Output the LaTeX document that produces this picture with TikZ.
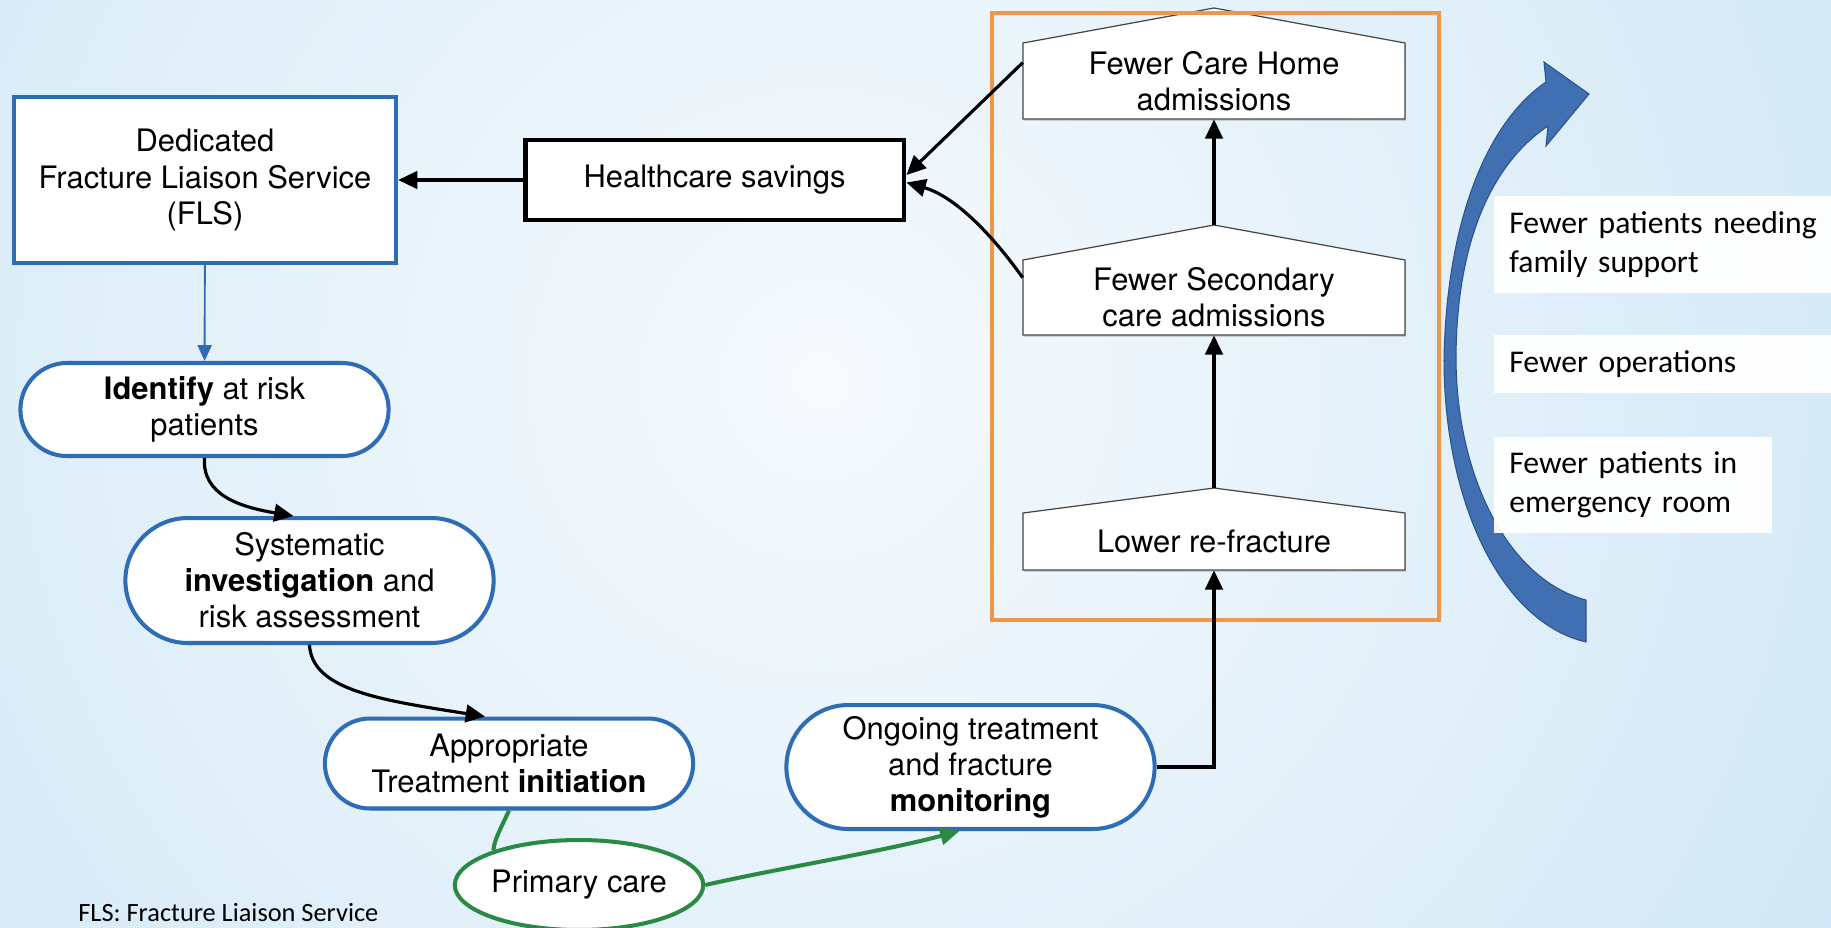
\documentclass[tikz,border=0pt]{standalone}
\usepackage{fontspec}
\setmainfont{TeX Gyre Heros}
\newfontfamily\calibri{Carlito}
\usetikzlibrary{arrows.meta,shapes.misc,shapes.geometric,shadows}

\definecolor{flsblue}{RGB}{46,108,182}
\definecolor{pcgreen}{RGB}{42,138,68}
\definecolor{boxorange}{RGB}{240,150,72}
\definecolor{bigarrow}{RGB}{64,112,178}
\definecolor{bigarrowedge}{RGB}{44,84,140}
\definecolor{skyin}{RGB}{246,250,253}
\definecolor{skyout}{RGB}{184,219,241}
\definecolor{houseline}{RGB}{70,70,70}

\newcommand{\flowfont}{\fontsize{17.6}{20.5}\selectfont}
\newcommand{\notefont}{\calibri\fontsize{18}{22.5}\selectfont}

\tikzset{
  softshadow/.style={drop shadow={shadow xshift=0.6pt,shadow yshift=-1pt,opacity=0.3}},
  pill/.style={rounded rectangle, draw=flsblue, line width=2.3pt, fill=white,
    minimum width=7.6cm, align=center, font=\flowfont, softshadow},
  flsbox/.style={rectangle, draw=flsblue, line width=2.5pt, fill=white,
    minimum width=7.64cm, minimum height=3.32cm, align=center, font=\flowfont, softshadow},
  savebox/.style={rectangle, draw=black, line width=2.8pt, fill=white,
    minimum width=7.58cm, minimum height=1.6cm, font=\flowfont, softshadow},
  carebox/.style={ellipse, draw=pcgreen, line width=2.3pt, fill=white,
    minimum width=4.96cm, minimum height=1.8cm, inner sep=0pt, font=\flowfont},
  housebox/.style={draw=houseline, line width=0.7pt, fill=white, softshadow},
  housetext/.style={minimum width=7.64cm, inner sep=0pt, align=center, font=\flowfont},
  notebox/.style={fill=white, fill opacity=0.95, text opacity=1, anchor=west,
    inner xsep=0.3cm, align=left, font=\notefont},
  arr/.style={line width=1.8pt, -{Triangle[length=11pt,width=10pt]}},
  bluearr/.style={flsblue, line width=1.1pt, -{Triangle[length=9pt,width=8pt]}},
  greenline/.style={pcgreen, line width=2.3pt},
  greenarr/.style={greenline, -{Triangle[length=11pt,width=10pt]}},
}

\begin{document}
\begin{tikzpicture}[x=0.02cm, y=-0.02cm]

  \useasboundingbox (0,0) rectangle (1831,927);
  \clip (0,0) rectangle (1831,927);

  % sky background
  \fill[skyout] (0,0) rectangle (1831,927);
  \shade[inner color=skyin, outer color=skyout] (820,380) circle (2000);

  % left hand pathway
  \node[flsbox] (fls) at (205,180) {Dedicated\\Fracture Liaison Service\\(FLS)};
  \node[savebox] (hs) at (714.5,180) {Healthcare savings};
  \node[pill, minimum height=1.86cm] (identify) at (204.5,409.5)
    {\textbf{Identify} at risk\\patients};
  \node[pill, minimum height=2.5cm] (systematic) at (309.5,580.5)
    {Systematic\\\textbf{investigation} and\\risk assessment};
  \node[pill, minimum height=1.8cm] (appropriate) at (509,763.5)
    {Appropriate\\Treatment \textbf{initiation}};
  \node[pill, minimum height=2.48cm] (ongoing) at (970.5,767)
    {Ongoing treatment\\and fracture\\\textbf{monitoring}};
  \node[carebox] (primary) at (579,885) {Primary care};

  % outcome houses
  \foreach \n/\cy/\h/\r in {1/81/76/35, 2/297.5/75/35, 3/541.5/57/25}
  {
    \draw[housebox] (1023,\cy+\h/2) -- (1023,\cy-\h/2) --
      (1214,\cy-\h/2-\r) coordinate (roof\n) --
      (1405,\cy-\h/2) -- (1405,\cy+\h/2) -- cycle;
  }
  \node[housetext, minimum height=1.52cm] (house1) at (1214,81) {Fewer Care Home\\admissions};
  \node[housetext, minimum height=1.5cm] (house2) at (1214,297.5) {Fewer Secondary\\care admissions};
  \node[housetext, minimum height=1.14cm] (house3) at (1214,541.5) {Lower re-fracture};

  \draw[boxorange, line width=2.3pt] (992,13) rectangle (1439,620);

  % connectors
  \draw[arr] (hs) -- (fls);
  \draw[bluearr] (fls) -- (identify);
  \draw[arr] (identify.south) .. controls (202,495) and (240,507) .. ([xshift=-0.32cm]systematic.north);
  \draw[arr] (systematic.south) .. controls (312,690) and (380,700) .. ([xshift=-0.48cm]appropriate.north);
  \draw[greenline] (appropriate.south) .. controls (501,828) and (494,840) .. (primary.158);
  \draw[greenarr] (primary.east) .. controls (780,868) and (880,852) .. ([xshift=-0.22cm]ongoing.south);
  \draw[arr] (ongoing.east) -| (house3);
  \draw[arr] (roof3) -- (house2);
  \draw[arr] (roof2) -- (house1);
  \draw[arr] ([yshift=-0.4cm]house1.north west) -- ([yshift=0.1cm]hs.east);
  \draw[arr] ([yshift=-0.36cm]house2.north west) .. controls (985,225) and (950,195) .. ([yshift=-0.05cm]hs.east);

  % wider benefits
  \filldraw[fill=bigarrow, draw=bigarrowedge, line width=0.6pt]
    (1546,82) .. controls (1483,125) and (1446,230) .. (1444,360)
    .. controls (1444,500) and (1500,622) .. (1586,642)
    -- (1586,600)
    .. controls (1510,580) and (1457,480) .. (1456,360)
    .. controls (1456,245) and (1490,165) .. (1548,126)
    -- (1546,146) -- (1589,94) -- (1544,62) -- cycle;

  \node[notebox, minimum height=1.94cm, text width=7cm] (family) at (1494,244.5)
    {Fewer patients needing\\family support};
  \node[notebox, minimum height=1.16cm, text width=7cm] (operations) at (1494,364)
    {Fewer operations};
  \node[notebox, minimum height=1.92cm, text width=4.95cm] (emergency) at (1494,485)
    {Fewer patients in\\emergency room};

  \node[anchor=base west, inner sep=0pt, font=\calibri\fontsize{15}{18}\selectfont] (footnote)
    at (78,921) {FLS: Fracture Liaison Service};

\end{tikzpicture}
\end{document}
